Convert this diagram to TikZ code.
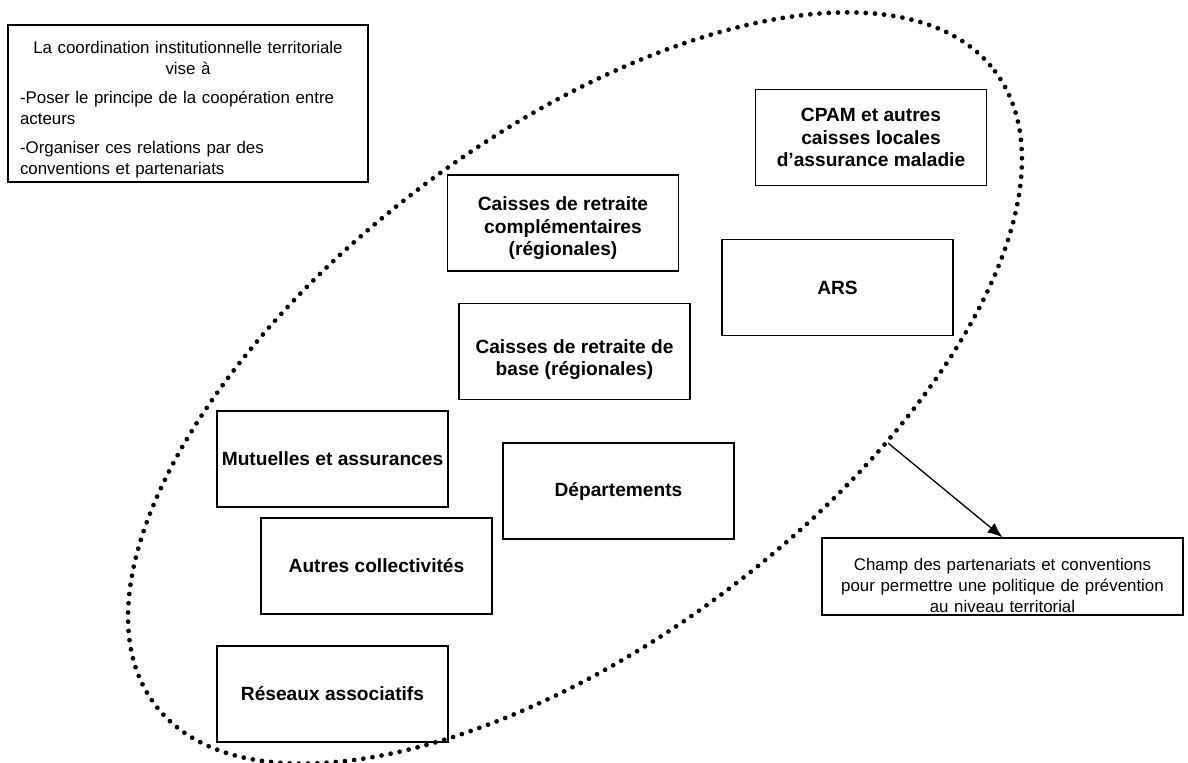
\documentclass[tikz,border=0pt]{standalone}
\usepackage{fontspec}
\setmainfont{Liberation Sans}
\usetikzlibrary{arrows.meta}

\begin{document}
\begin{tikzpicture}[
            x=0.02cm, y=-0.02cm,
            acteur/.style={
                    rectangle,
                    draw,
                    line width=0.75pt,
                    minimum width=4.62cm,
                    minimum height=1.92cm,
                    inner sep=1pt,
                    align=center,
                    font=\fontsize{10.9}{12.8}\selectfont\bfseries
                },
            note/.style={
                    rectangle,
                    draw,
                    line width=0.75pt,
                    inner sep=0pt,
                    font=\fontsize{9.6}{11.8}\selectfont
                },
            perimetre/.style={
                    dash pattern=on 0pt off 1.85mm,
                    line cap=round,
                    line width=0.95mm
                },
            arrow/.style={
                    -{Latex[length=3mm,width=2.4mm]},
                    line width=0.75pt
                }
        ]
        \useasboundingbox (0,0) rectangle (1188,763);

        % Encadre explicatif
        \node[note, minimum width=7.2cm, minimum height=3.14cm, text width=6.72cm, align=left] (coordination) at (188,103.5)
            {{\centering\rule{0pt}{14pt}La coordination institutionnelle territoriale\\vise à\par}
             \vspace{5pt}
             -Poser le principe de la coopération entre\\acteurs\par
             \vspace{5pt}
             -Organiser ces relations par des\\conventions et partenariats};

        % Acteurs
        \node[acteur] (cpam) at (871,137.5) {CPAM et autres\\caisses locales\\d’assurance maladie};
        \node[acteur] (complementaires) at (563,223) {\rule{0pt}{14pt}Caisses de retraite\\complémentaires\\(régionales)};
        \node[acteur] (ars) at (837.5,287.5) {ARS};
        \node[acteur] (base) at (574.5,351.5) {\rule{0pt}{17pt}Caisses de retraite de\\base (régionales)};
        \node[acteur] (mutuelles) at (332.5,459) {Mutuelles et assurances};
        \node[acteur] (departements) at (618.5,491) {Départements};
        \node[acteur] (collectivites) at (376.5,566) {Autres collectivités};
        \node[acteur] (reseaux) at (332.5,694) {Réseaux associatifs};

        % Perimetre du partenariat
        \draw[perimetre, rotate around={37:(575,388)}] (575,388) ellipse [x radius=526, y radius=253];
        \coordinate (bord) at (888,443);

        % Legende
        \node[note, minimum width=7.22cm, minimum height=1.54cm, text width=7cm, align=center] (champ) at (1002.5,576.5)
            {\rule{0pt}{17pt}Champ des partenariats et conventions\\pour permettre une politique de prévention\\au niveau territorial};

        \draw[arrow] (bord) -- (champ.north);

    \end{tikzpicture}
\end{document}
